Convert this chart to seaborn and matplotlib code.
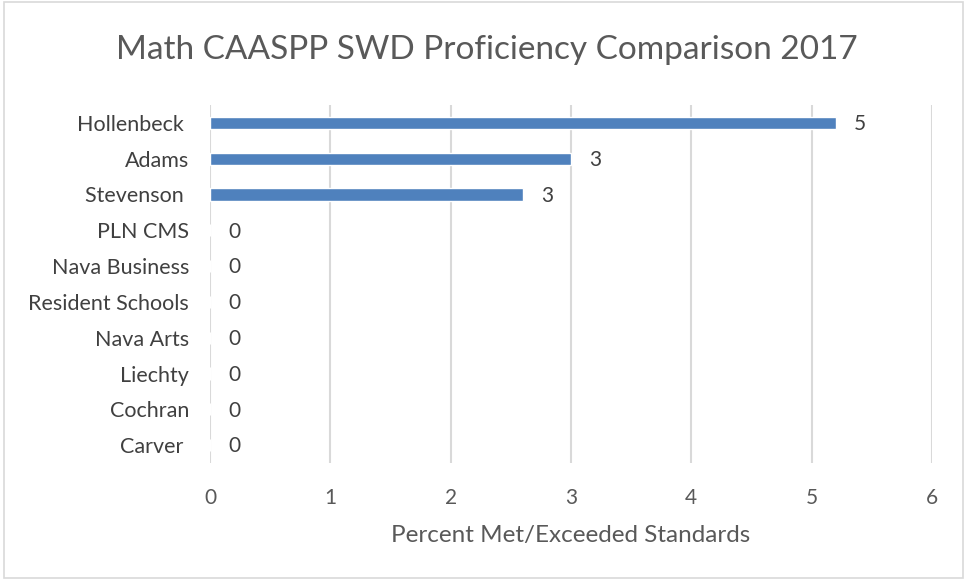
import matplotlib
matplotlib.use("Agg")
import matplotlib.pyplot as plt
import seaborn as sns
import pandas as pd

schools = ["Hollenbeck ", "Adams", "Stevenson ", "PLN CMS", "Nava Business",
           "Resident Schools", "Nava Arts", "Liechty", "Cochran", "Carver "]
values = [5.2, 3.0, 2.6, 0, 0, 0, 0, 0, 0, 0]
xticks = [0, 1, 2, 3, 4, 5, 6]

sns.set_theme(style="white")
plt.rcParams['font.family'] = ['Lato', 'DejaVu Sans']

df = pd.DataFrame({"School": schools, "Value": values})

fig = plt.figure(figsize=(9.67, 5.8), dpi=100)
ax = fig.add_axes([210/967, 1-463/580, (932-210)/967, (463-105)/580])

sns.barplot(data=df, y="School", x="Value", orient="h", color="#4f81bd",
            width=0.34, ax=ax, saturation=1, order=schools)

ax.set_xlim(0, 6)
ax.set_ylim(9.5, -0.5)
ax.set_xticks(xticks)
ax.set_xticklabels([str(t) for t in xticks], fontsize=15, color="#595959")
ax.tick_params(axis="y", labelsize=15.5, labelcolor="#404040", length=0, pad=15)
ax.tick_params(axis="x", length=0, pad=18)
ax.set_ylabel("")
ax.set_xlabel("Percent Met/Exceeded Standards", fontsize=17.5, color="#595959", labelpad=12)
for s in ax.spines.values():
    s.set_visible(False)
ax.grid(axis="x", color="#d9d9d9", linewidth=1.5)
ax.set_axisbelow(True)

for i, v in enumerate(values):
    ax.annotate(f"{round(v):d}", xy=(v, i), xytext=(13, -1),
                textcoords="offset points", va="center", ha="left",
                fontsize=15, color="#404040")

fig.text(487/967, 1-50/580, "Math CAASPP SWD Proficiency Comparison 2017",
         ha="center", va="center", fontsize=24, color="#595959")

border = plt.Rectangle((0.004, 0.004), 0.992, 0.992, transform=fig.transFigure,
                       fill=False, edgecolor="#d9d9d9", linewidth=1.2)
fig.patches.append(border)

fig.savefig("out.png", dpi=100)
